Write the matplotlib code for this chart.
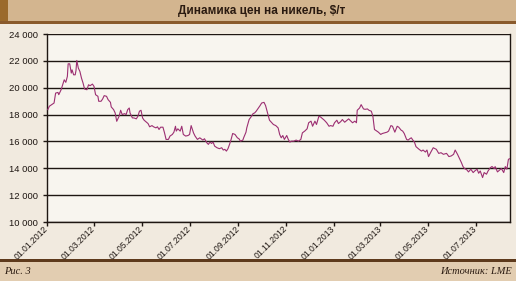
import numpy as np
import pandas as pd
import matplotlib
matplotlib.use("Agg")
import matplotlib.pyplot as plt
import matplotlib.dates as mdates
from matplotlib.patches import Rectangle
from matplotlib.ticker import FuncFormatter

# days since 01.01.2012 and nickel price, $/t
days = [1, 3, 6, 9, 11, 14, 15, 18, 20, 22, 24, 26, 27, 29, 31, 32, 34, 36, 37, 38,
        40, 42, 44, 46, 48, 51, 53, 55, 58, 60, 62, 65, 66, 69, 71, 73, 76, 78, 81, 82,
        85, 87, 89, 92, 94, 96, 99, 101, 103, 105, 106, 109, 111, 114, 116, 118, 120, 122, 124, 127,
        129, 131, 134, 136, 139, 141, 143, 145, 148, 150, 152, 155, 157, 160, 162, 164, 165, 167, 170, 172,
        174, 177, 180, 182, 184, 187, 189, 192, 195, 199, 201, 204, 206, 208, 210, 212, 214, 217, 220, 223,
        225, 227, 229, 231, 233, 235, 237, 240, 243, 245, 247, 250, 251, 254, 255, 258, 261, 263, 265, 267,
        269, 272, 274, 277, 279, 282, 284, 287, 289, 292, 295, 296, 297, 299, 301, 303, 306, 308, 310, 312,
        315, 318, 321, 324, 326, 329, 332, 334, 337, 339, 342, 344, 347, 349, 352, 354, 357, 360, 362, 365,
        367, 370, 372, 375, 377, 380, 383, 385, 388, 390, 393, 395, 396, 399, 401, 404, 406, 409, 411, 414,
        416, 418, 421, 423, 426, 428, 431, 434, 436, 439, 441, 444, 447, 449, 452, 454, 456, 459, 461, 463,
        465, 467, 469, 471, 475, 478, 480, 483, 485, 487, 490, 493, 497, 500, 503, 506, 510, 513, 516, 519,
        521, 524, 527, 529, 531, 533, 536, 538, 541, 544, 546, 549, 551, 553, 556, 558, 561, 563, 566, 568,
        571, 572, 575, 578, 580, 583, 585, 587, 589, 591]
price = [18370, 18620, 18740, 18860, 19600, 19650, 19480, 19850, 20220, 20590, 20400, 20840, 21780, 21780, 21090, 21330, 20960, 20960, 21280, 22030,
         21460, 21210, 20720, 20350, 19900, 19850, 20220, 20150, 20270, 20100, 19480, 19360, 18990, 18990, 19160, 19410, 19360, 19110, 18910, 18570,
         18370, 18120, 17500, 17870, 18320, 18000, 18070, 18000, 18370, 18490, 18120, 17750, 17750, 17680, 17870, 18250, 18320, 17750, 17580, 17430,
         17330, 17090, 17180, 17090, 17010, 17090, 16890, 17060, 17060, 16640, 16150, 16150, 16400, 16520, 16690, 17130, 16770, 16940, 16770, 17130,
         16520, 16400, 16440, 16520, 17180, 16640, 16400, 16150, 16270, 16100, 16200, 15900, 15780, 15950, 15850, 15950, 15650, 15530, 15460, 15530,
         15360, 15410, 15280, 15460, 15780, 16150, 16590, 16520, 16270, 16200, 16020, 16100, 16270, 16690, 17010, 17630, 17870, 18070, 18120, 18250,
         18420, 18670, 18860, 18910, 18670, 18000, 17580, 17390, 17260, 17180, 17010, 16770, 16520, 16270, 16440, 16150, 16440, 16150, 15950, 16020,
         16020, 16100, 16020, 16150, 16640, 16770, 16940, 17390, 17510, 17130, 17510, 17260, 17870, 17830, 17680, 17580, 17390, 17130, 17180, 17130,
         17390, 17580, 17330, 17480, 17630, 17430, 17580, 17680, 17510, 17390, 17510, 17390, 18320, 18490, 18740, 18420, 18390, 18420, 18320, 18250,
         17870, 16890, 16770, 16690, 16520, 16590, 16640, 16690, 16770, 17180, 17130, 16690, 17130, 17060, 16840, 16770, 16590, 16150, 16100, 16200,
         16270, 16100, 15950, 15610, 15410, 15280, 15360, 15210, 15360, 14870, 15210, 15530, 15410, 15110, 15160, 15040, 15110, 14870, 14920, 15040,
         15360, 15040, 14670, 14420, 14130, 13980, 13880, 13730, 13930, 13680, 13800, 13930, 13630, 13800, 13310, 13680, 13560, 13800, 14050, 14130,
         13980, 14130, 13730, 13880, 13980, 13680, 14130, 13930, 14670, 14720]

tick_dates = ["2012-01-01", "2012-03-01", "2012-05-01", "2012-07-01", "2012-09-01",
              "2012-11-01", "2013-01-01", "2013-03-01", "2013-05-01", "2013-07-01"]
y_ticks = [10000, 12000, 14000, 16000, 18000, 20000, 22000, 24000]

title = "Динамика цен на никель, $/т"
fig_label = "Рис. 3"
source = "Источник: LME"

start = pd.Timestamp("2012-01-01")
dates = start + pd.to_timedelta(days, unit="D")

plt.rcParams["font.family"] = ["Liberation Sans", "DejaVu Sans"]

fig = plt.figure(figsize=(5.16, 2.81), dpi=100, facecolor="#f1eadf")
ax = fig.add_axes([47/516, 1-222/281, 463/516, 188/281])
ax.set_facecolor("#f8f5ef")
ax.set_zorder(2)

# header / footer decoration
fig.patches.append(Rectangle((0, 1-21/281), 1, 21/281, transform=fig.transFigure,
                             facecolor="#d3b58f", edgecolor="none", zorder=0))
fig.patches.append(Rectangle((0, 1-21/281), 8/516, 21/281, transform=fig.transFigure,
                             facecolor="#9b6a2c", edgecolor="none", zorder=1))
fig.patches.append(Rectangle((0, 1-24/281), 1, 3/281, transform=fig.transFigure,
                             facecolor="#8a5a2c", edgecolor="none", zorder=1))
fig.patches.append(Rectangle((0, 0), 1, 20/281, transform=fig.transFigure,
                             facecolor="#e2cdb1", edgecolor="none", zorder=0))
fig.patches.append(Rectangle((0, 19/281), 1, 3/281, transform=fig.transFigure,
                             facecolor="#5e3a1c", edgecolor="none", zorder=1))

fig.text(262/516, 1-11/281, title, ha="center", va="center",
         fontsize=8.5, fontweight="bold", color="#2a1a10")
fig.text(4/516, 9/281, fig_label, ha="left", va="center", fontsize=7.5,
         style="italic", family="Liberation Serif", color="#2a1a10")
fig.text(512/516, 9/281, source, ha="right", va="center", fontsize=7.5,
         style="italic", family="Liberation Serif", color="#2a1a10")

for v in y_ticks:
    ax.axhline(v, color="#1e1612", lw=1.0, zorder=1)

ax.plot(dates, price, color="#9c2f72", lw=0.8, zorder=3)

ax.set_ylim(10000, 24000)
ax.set_xlim(start, dates[-1])
ax.set_yticks(y_ticks)
ax.yaxis.set_major_formatter(FuncFormatter(lambda v, p: f"{int(v):,}".replace(",", " ")))
ax.set_xticks(pd.to_datetime(tick_dates))
ax.xaxis.set_major_formatter(mdates.DateFormatter("%d.%m.%Y"))

ax.tick_params(axis="both", colors="#1e1612", length=3, width=1)
ax.tick_params(axis="y", labelsize=6.8)
ax.tick_params(axis="x", labelsize=6.2, pad=1)
plt.setp(ax.get_xticklabels(), rotation=45, ha="right", va="center", rotation_mode="anchor")
ax.spines["top"].set_visible(False)
for s in ["left", "right", "bottom"]:
    ax.spines[s].set_color("#1e1612")
    ax.spines[s].set_linewidth(1.0)

fig.savefig("out.png", dpi=100, facecolor=fig.get_facecolor())
